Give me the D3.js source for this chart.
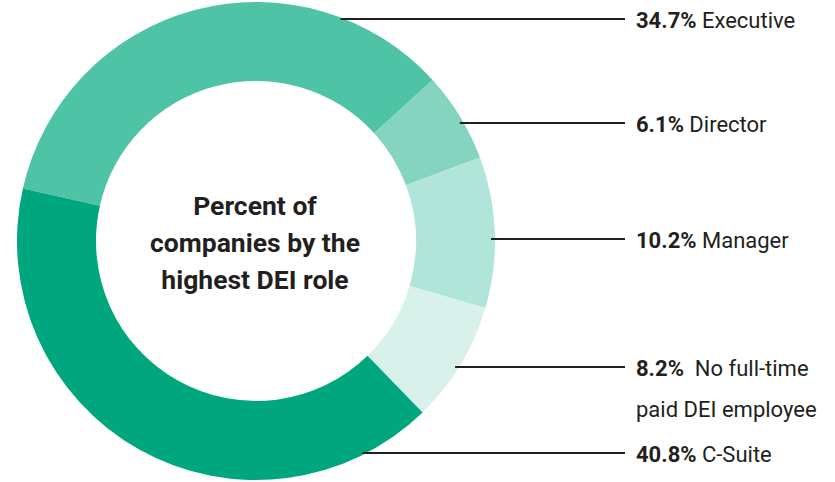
<!DOCTYPE html>
<html lang="en">
<head>
<meta charset="UTF-8">
<title>Percent of companies by the highest DEI role</title>
<script src="https://d3js.org/d3.v7.min.js"></script>
<style>
    body { margin: 0; background: #fff; }
    svg { display: block; font-family: "Roboto", sans-serif; }
</style>
</head>
<body>
<svg id="chart" width="835" height="482"></svg>
<script>
    // chart data
    const categories = ["Executive", "Director", "Manager", "No full-time paid DEI employee", "C-Suite"];
    const values = [34.7, 6.1, 10.2, 8.2, 40.8];
    const labelLines = [["Executive"], ["Director"], ["Manager"], ["No full-time", "paid DEI employee"], ["C-Suite"]];
    const colors = ["#4fc3a6", "#84d4c0", "#b2e5d9", "#d8f1eb", "#00a77e"];
    const titleLines = ["Percent of", "companies by the", "highest DEI role"];

    const svg = d3.select("#chart");
    const cx = 256, cy = 241, outerR = 239, innerR = 160;
    const labelY = [19, 123, 239, 367, 453];
    const lineEnd = 625, textX = 636;

    const pie = d3.pie().sort(null).value(d => d)
        .startAngle(-77.3 * Math.PI / 180)
        .endAngle((360 - 77.3) * Math.PI / 180);
    const arcs = pie(values);
    const arc = d3.arc().innerRadius(innerR).outerRadius(outerR);

    const g = svg.append("g").attr("transform", `translate(${cx},${cy})`);
    g.selectAll("path")
        .data(arcs)
        .enter().append("path")
        .attr("d", arc)
        .attr("fill", (d, i) => colors[i]);

    // leader lines: start where the horizontal meets the outer edge
    arcs.forEach((d, i) => {
        const dy = labelY[i] - cy;
        const dx = Math.sqrt(Math.max(0, outerR * outerR - dy * dy));
        svg.append("line")
            .attr("x1", cx + dx - 4).attr("x2", lineEnd)
            .attr("y1", labelY[i]).attr("y2", labelY[i])
            .attr("stroke", "#231f20").attr("stroke-width", 2);

        const t = svg.append("text")
            .attr("x", textX).attr("y", labelY[i])
            .attr("dy", "0.42em")
            .attr("fill", "#231f20")
            .attr("font-size", 22);
        t.append("tspan").attr("font-weight", "bold").text(values[i].toFixed(1) + "%");
        t.append("tspan").text((labelLines[i].length > 1 ? "\u00a0 " : " ") + labelLines[i][0]);
        labelLines[i].slice(1).forEach((ln, k) => {
            t.append("tspan").attr("x", textX).attr("dy", 41 * (k + 1)).text(ln);
        });
    });

    // center title
    svg.append("text")
        .attr("text-anchor", "middle")
        .attr("fill", "#231f20")
        .attr("font-size", 26.5)
        .attr("font-weight", "bold")
        .selectAll("tspan")
        .data(titleLines)
        .enter().append("tspan")
        .attr("x", cx - 1)
        .attr("y", (d, i) => 205 + i * 37)
        .attr("dy", "0.36em")
        .text(d => d);
</script>
</body>
</html>
